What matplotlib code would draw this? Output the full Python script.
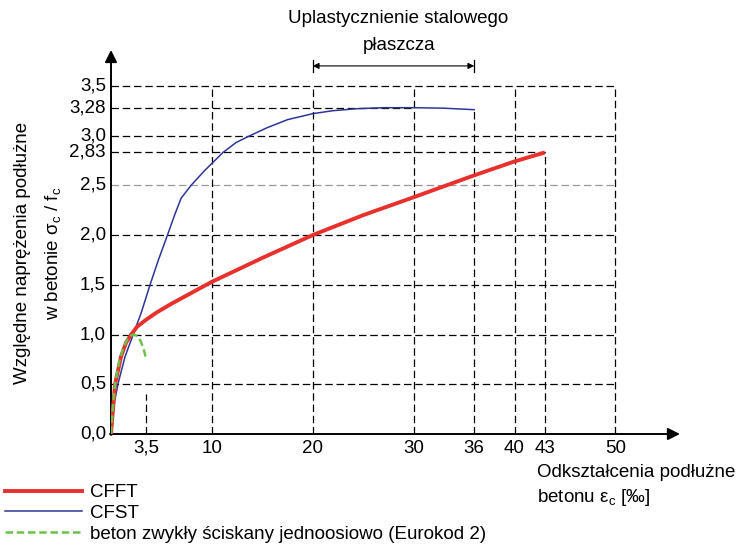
import matplotlib
matplotlib.use('Agg')
import matplotlib.pyplot as plt
from matplotlib.lines import Line2D

fam = 'Liberation Sans'
plt.rcParams['font.family'] = [fam, 'DejaVu Sans']
plt.rcParams['mathtext.fontset'] = 'custom'
plt.rcParams['mathtext.rm'] = fam
plt.rcParams['mathtext.it'] = fam
FS = 13.5

# data (strain in permille, relative stress)
cfft_x = [0, 0.4, 1.0, 1.5, 2.0, 2.6, 3.5, 4.5, 6.0, 8.0, 10.0, 12.3, 15.0, 20.0, 25.0, 30.0, 33.0, 36.0, 40.0, 43.0]
cfft_y = [0, 0.5, 0.78, 0.92, 1.0, 1.08, 1.15, 1.22, 1.31, 1.42, 1.53, 1.64, 1.77, 2.0, 2.2, 2.38, 2.49, 2.60, 2.74, 2.83]

cfst_x = [0, 0.3, 0.73, 1.4, 2.2, 3.0, 3.87, 4.7, 5.6, 6.3, 6.95, 7.94, 9.3, 10.0, 11.1, 12.4, 13.8, 15.5, 17.5, 20.0, 22.0, 24.4, 27.0, 30.0, 33.0, 36.0]
cfst_y = [0, 0.3, 0.52, 0.78, 1.0, 1.22, 1.5, 1.75, 2.0, 2.2, 2.37, 2.5, 2.65, 2.72, 2.83, 2.93, 3.0, 3.08, 3.16, 3.22, 3.25, 3.27, 3.28, 3.28, 3.275, 3.26]

ec2_x = [0, 0.2, 0.4, 0.8, 1.2, 1.6, 2.0, 2.3, 2.7, 3.0, 3.3, 3.5]
ec2_y = [0, 0.3, 0.5, 0.72, 0.86, 0.95, 0.99, 1.0, 0.98, 0.92, 0.83, 0.75]

xticks = [3.5, 10, 20, 30, 36, 40, 43, 50]
xtick_labels = ['3,5', '10', '20', '30', '36', '40', '43', '50']
yticks = [0.0, 0.5, 1.0, 1.5, 2.0, 2.5, 2.83, 3.0, 3.28, 3.5]
ytick_labels = ['0,0', '0,5', '1,0', '1,5', '2,0', '2,5', '2,83', '3,0', '3,28', '3,5']

# helper grid lines: (value, start, end)
hgrid = [(0.5, 0, 50), (1.0, 0, 50), (1.5, 0, 50), (2.0, 0, 50), (2.83, 0, 43),
         (3.0, 0, 50), (3.28, 0, 30), (3.5, 0, 50)]
vgrid = [(3.5, 0, 0.4), (10, 0, 3.5), (20, 0, 3.5), (30, 0, 3.5), (36, 0, 3.26),
         (40, 0, 3.5), (43, 0, 2.83), (50, 0, 3.5)]

fig = plt.figure(figsize=(7.38, 5.54), dpi=100)
ax = fig.add_axes([111/738, 120/554, 569/738, 384/554])
ax.set_xlim(0, 56.4)
ax.set_ylim(0, 3.86)
ax.axis('off')

dash = (6, 3)
for v, a, b in hgrid:
    ax.plot([a, b], [v, v], color='black', lw=0.9, dashes=dash, clip_on=False)
ax.plot([0, 50], [2.5, 2.5], color='#999999', lw=0.9, dashes=dash, clip_on=False)
for v, a, b in vgrid:
    ax.plot([v, v], [a, b], color='black', lw=0.9, dashes=dash, clip_on=False)

# curves
ax.plot(cfft_x, cfft_y, color='#e8302c', lw=2.8, solid_capstyle='butt', zorder=5)
ax.plot(cfst_x, cfst_y, color='#2f3596', lw=1.1, zorder=4)
ax.plot(ec2_x, ec2_y, color='#6cc24a', lw=1.8, dashes=(3, 1.5), zorder=6)

# axes with arrows
ax.annotate('', xy=(56.4, 0), xytext=(-0.1, 0),
            arrowprops=dict(arrowstyle='-|>', color='black', lw=1.4, mutation_scale=18,
                            shrinkA=0, shrinkB=0), annotation_clip=False)
ax.annotate('', xy=(0, 3.86), xytext=(0, -0.01),
            arrowprops=dict(arrowstyle='-|>', color='black', lw=1.4, mutation_scale=18,
                            shrinkA=0, shrinkB=0), annotation_clip=False)

for x, lab in zip(xticks, xtick_labels):
    ax.text(x, -0.06, lab, ha='center', va='top', fontsize=FS)
for y, lab in zip(yticks, ytick_labels):
    ax.text(-0.5, y, lab, ha='right', va='center', fontsize=FS)

# plasticization bracket
ax.annotate('', xy=(20, 3.70), xytext=(36, 3.70),
            arrowprops=dict(arrowstyle='<|-|>', color='black', lw=0.8, mutation_scale=9,
                            shrinkA=0, shrinkB=0), annotation_clip=False)
ax.plot([20, 20], [3.64, 3.76], color='black', lw=0.9, clip_on=False)
ax.plot([36, 36], [3.64, 3.76], color='black', lw=0.9, clip_on=False)
ax.text(28.5, 4.18, 'Uplastycznienie stalowego', ha='center', va='center', fontsize=FS)
ax.text(28.6, 3.91, 'płaszcza', ha='center', va='center', fontsize=FS)

# axis titles
ax.text(-8.8, 1.82, 'Względne naprężenia podłużne', rotation=90, ha='center', va='center', fontsize=FS)
ax.text(-5.75, 1.82, r'w betonie $\mathrm{\sigma_c\ /\ f_c}$', rotation=90, ha='center', va='center', fontsize=FS)
ax.text(42.2, -0.39, 'Odkształcenia podłużne', ha='left', va='center', fontsize=FS)
ax.text(42.2, -0.64, r'betonu $\mathrm{ε_c}$ [‰]', ha='left', va='center', fontsize=FS)

handles = [Line2D([], [], color='#e8302c', lw=2.8),
           Line2D([], [], color='#2f3596', lw=1.1),
           Line2D([], [], color='#6cc24a', lw=1.8, dashes=(3, 1.5))]
labels = ['CFFT', 'CFST', 'beton zwykły ściskany jednoosiowo (Eurokod 2)']
ax.legend(handles, labels, loc='upper left', bbox_to_anchor=(5/738, 1 - 484/554),
          bbox_transform=fig.transFigure, frameon=False, fontsize=FS,
          handlelength=4.1, handletextpad=0.45, labelspacing=0.2,
          borderpad=0, borderaxespad=0)

fig.savefig('out.png', dpi=100)
